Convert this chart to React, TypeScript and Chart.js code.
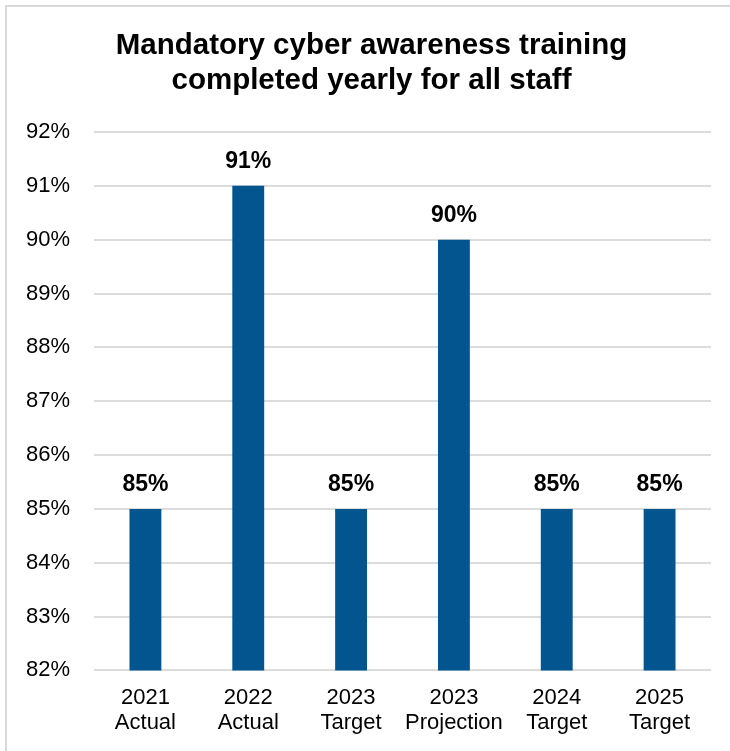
import React, { useEffect, useRef } from "react";
import { Chart, registerables } from "chart.js";

Chart.register(...registerables);

const categories: string[][] = [
  ["2021", "Actual"],
  ["2022", "Actual"],
  ["2023", "Target"],
  ["2023", "Projection"],
  ["2024", "Target"],
  ["2025", "Target"],
];
const values: number[] = [85, 91, 85, 90, 85, 85];
const yMin = 82;
const yMax = 92;
const titleLines = ["Mandatory cyber awareness training", "completed yearly for all staff"];

const FONT = "'Liberation Sans', Arial, sans-serif";

const valueLabels = {
  id: "valueLabels",
  afterDatasetsDraw(chart: any) {
    const ctx = chart.ctx;
    const meta = chart.getDatasetMeta(0);
    ctx.save();
    ctx.font = `bold 23px ${FONT}`;
    ctx.fillStyle = "#000000";
    ctx.textAlign = "center";
    ctx.textBaseline = "bottom";
    meta.data.forEach((bar: any, i: number) => {
      ctx.fillText(`${values[i]}%`, bar.x, bar.y - 13);
    });
    ctx.restore();
  },
};

const titlePlugin = {
  id: "customTitle",
  afterDraw(chart: any) {
    const ctx = chart.ctx;
    ctx.save();
    ctx.font = `bold 29.5px ${FONT}`;
    ctx.fillStyle = "#000000";
    ctx.textAlign = "center";
    ctx.textBaseline = "middle";
    const cx = chart.width / 2 + 3;
    titleLines.forEach((line, i) => {
      ctx.fillText(line, cx, 39 + i * 35);
    });
    ctx.restore();
  },
};

export default function App() {
  const ref = useRef<HTMLCanvasElement | null>(null);
  useEffect(() => {
    if (!ref.current) return;
    const chart = new Chart(ref.current, {
      type: "bar",
      data: {
        labels: categories,
        datasets: [
          {
            data: values,
            backgroundColor: "#03558F",
            barPercentage: 0.31,
            categoryPercentage: 1,
          },
        ],
      },
      options: {
        animation: false,
        responsive: false,
        layout: { padding: { left: 16, right: 19, top: 125, bottom: 0 } },
        plugins: {
          legend: { display: false },
          tooltip: { enabled: false },
          title: { display: false },
        },
        scales: {
          x: {
            grid: { display: false, drawTicks: false },
            border: { display: false },
            ticks: {
              color: "#000000",
              font: { family: FONT, size: 22, lineHeight: 1.15 },
              padding: 15,
              maxRotation: 0,
              autoSkip: false,
            },
          },
          y: {
            min: yMin,
            max: yMax,
            grid: { color: "#dcdcdc", lineWidth: 2, drawTicks: false },
            border: { display: false },
            afterFit: (scale: any) => {
              scale.width = 71;
            },
            ticks: {
              stepSize: 1,
              color: "#000000",
              font: { family: FONT, size: 22 },
              padding: 24,
              callback: (v: any) => `${v}%`,
            },
          },
        },
      },
      plugins: [valueLabels, titlePlugin],
    });
    return () => chart.destroy();
  }, []);
  return (
    <div
      style={{
        position: "fixed",
        left: 5,
        top: 5,
        width: 745,
        height: 760,
        borderTop: "2px solid #d9d9d9",
        borderLeft: "2px solid #d9d9d9",
        background: "#ffffff",
      }}
    >
      <canvas ref={ref} width={723} height={744} style={{ display: "block" }} />
    </div>
  );
}
